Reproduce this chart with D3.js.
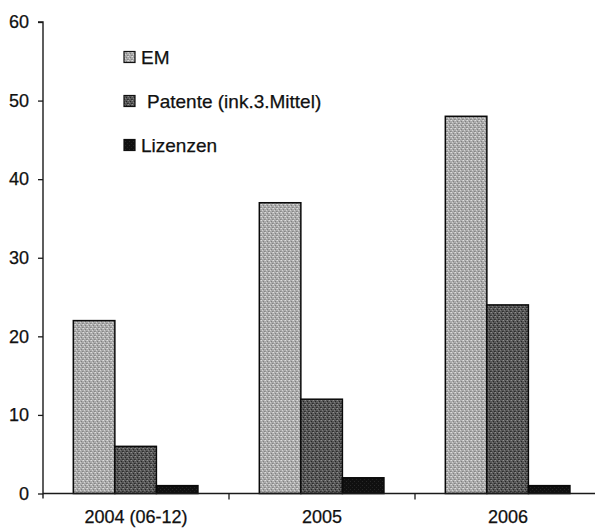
<!DOCTYPE html>
<html>
<head>
<meta charset="utf-8">
<script src="https://cdn.jsdelivr.net/npm/d3@7"></script>
<style>
  html, body { margin: 0; padding: 0; background: #fff; }
  svg { display: block; }
  text { font-family: "Liberation Sans", Arial, sans-serif; fill: #111; }
</style>
</head>
<body>
<svg id="chart" width="595" height="529"></svg>
<script>
const categories = ["2004 (06-12)", "2005", "2006"];
const seriesNames = ["EM", "Patente (ink.3.Mittel)", "Lizenzen"];
const emValues = [22, 37, 48];
const patenteValues = [6, 12, 24];
const lizenzenValues = [1, 2, 1];
const yTicks = [0, 10, 20, 30, 40, 50, 60];

const seriesValues = [emValues, patenteValues, lizenzenValues];
const data = categories.map((c, i) => ({
  cat: c,
  vals: seriesNames.map((s, j) => ({ key: s, idx: j, value: seriesValues[j][i] }))
}));

const svg = d3.select("#chart");
const mLeft = 43, mRight = 601, mTop = 22, mBottom = 493.5;

// patterns
const defs = svg.append("defs");
function makePattern(id, base, dots) {
  const p = defs.append("pattern").attr("id", id).attr("patternUnits", "userSpaceOnUse")
    .attr("width", 4).attr("height", 4);
  p.append("rect").attr("width", 4).attr("height", 4).attr("fill", base);
  dots.forEach(d => p.append("rect").attr("x", d[0]).attr("y", d[1]).attr("width", 1).attr("height", 1).attr("fill", d[2]));
}
makePattern("pEM", "#ababab", [[0,0,"#dedede"],[2,1,"#808080"],[1,2,"#d2d2d2"],[3,3,"#858585"],[3,0,"#c4c4c4"],[0,3,"#959595"]]);
makePattern("pPat", "#585858", [[0,0,"#909090"],[2,1,"#262626"],[1,2,"#7c7c7c"],[3,3,"#2c2c2c"],[3,0,"#6a6a6a"],[0,3,"#3c3c3c"]]);
makePattern("pLiz", "#101010", [[1,1,"#282828"],[3,3,"#202020"]]);
const fills = ["url(#pEM)", "url(#pPat)", "url(#pLiz)"];

const x0 = d3.scaleBand().domain(categories).range([mLeft, mRight]).padding(0);
const bw = x0.bandwidth();
const x1 = d3.scaleBand().domain(seriesNames).range([bw * 0.163, bw * 0.833]).padding(0);
const y = d3.scaleLinear().domain([0, 60]).range([mBottom, mTop]);

// bars
const g = svg.append("g");
const groups = g.selectAll("g.cat").data(data).join("g")
  .attr("transform", d => `translate(${x0(d.cat)},0)`);
groups.selectAll("rect").data(d => d.vals).join("rect")
  .attr("x", d => x1(d.key))
  .attr("y", d => y(d.value))
  .attr("width", x1.bandwidth())
  .attr("height", d => y(0) - y(d.value))
  .attr("fill", d => fills[d.idx])
  .attr("stroke", "#0a0a0a")
  .attr("stroke-width", 1.5);

// y axis
const yAxis = d3.axisLeft(y).tickValues(yTicks).tickSize(5).tickPadding(9).tickFormat(d3.format("d"));
const yg = svg.append("g").attr("transform", `translate(${mLeft},0)`).call(yAxis);
yg.select(".domain").attr("stroke", "#1a1a1a").attr("stroke-width", 1.4).attr("d", `M-5,${mTop}H0V${mBottom + 5}`);
yg.selectAll(".tick line").attr("stroke", "#1a1a1a").attr("stroke-width", 1.3);
yg.selectAll(".tick text").style("font-size", "18px").attr("fill", "#0d0d0d")
  .attr("stroke", "#0d0d0d").attr("stroke-width", 0.25)
  .style("font-family", '"Liberation Sans", Arial, sans-serif');

// x axis
const xAxis = d3.axisBottom(x0).tickSize(0).tickPadding(17);
const xg = svg.append("g").attr("transform", `translate(0,${mBottom})`).call(xAxis);
xg.select(".domain").attr("stroke", "#1a1a1a").attr("stroke-width", 1.4).attr("d", `M${mLeft},0H${mRight}`);
xg.selectAll(".tick text").style("font-size", "18px").attr("fill", "#0d0d0d")
  .attr("stroke", "#0d0d0d").attr("stroke-width", 0.25)
  .style("font-family", '"Liberation Sans", Arial, sans-serif');
// boundary ticks between categories
svg.append("g").selectAll("line").data(categories.slice(1)).join("line")
  .attr("x1", d => x0(d)).attr("x2", d => x0(d))
  .attr("y1", mBottom).attr("y2", mBottom + 6)
  .attr("stroke", "#1a1a1a").attr("stroke-width", 1.3);

// legend
const legendY = [57, 101, 145];
const legendTextX = [141, 147, 141];
const lg = svg.append("g");
seriesNames.forEach((s, i) => {
  lg.append("rect").attr("x", 124).attr("y", legendY[i] - 5.5).attr("width", 11).attr("height", 11)
    .attr("fill", fills[i]).attr("stroke", "#111").attr("stroke-width", 1.2);
  lg.append("text").attr("x", legendTextX[i]).attr("y", legendY[i]).attr("dy", "0.36em")
    .style("font-size", "19px").attr("fill", "#0d0d0d")
    .attr("stroke", "#0d0d0d").attr("stroke-width", 0.25).text(s);
});
</script>
</body>
</html>
